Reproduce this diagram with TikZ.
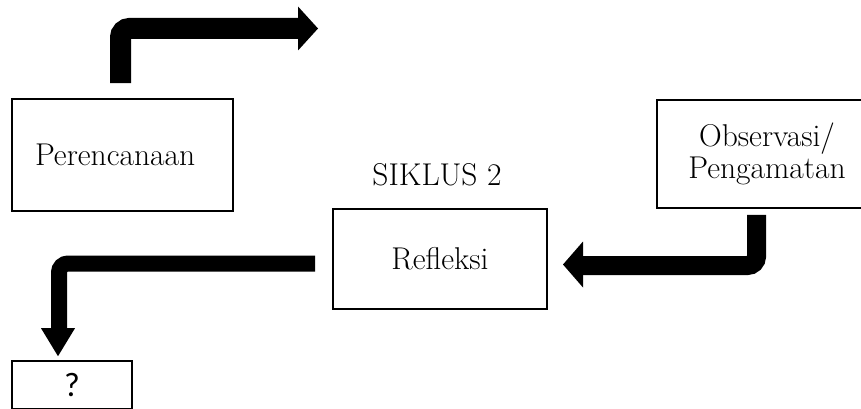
\documentclass[tikz,border=0pt]{standalone}
\usepackage{fontspec}
\newfontfamily\qfont{Carlito}
\usetikzlibrary{calc}
\begin{document}
\begin{tikzpicture}[x=1pt,y=-1pt,
  stagebox/.style={draw=black,line width=1.6pt,rectangle,inner sep=0pt,
    font=\fontsize{31.5}{32}\selectfont},
  shaft/.style={line width=#1,line join=miter,rounded corners=9pt},
  head/.style={fill=black}]
\useasboundingbox (0,0) rectangle (861,409);
\clip (0,0) rectangle (861,409);

% stages of the cycle
\node[stagebox,minimum width=221pt,minimum height=112pt,text width=175pt,
      inner xsep=23pt,align=left] (P) at (122.5,155) {\raisebox{-3pt}{Perencanaan}};
\node[stagebox,minimum width=220pt,minimum height=108pt,align=center] (O) at (767,154)
  {Observasi/\\Pengamatan};
\node[stagebox,minimum width=214pt,minimum height=100pt] (R) at (440,259) {Refleksi};
\node[stagebox,minimum width=120pt,minimum height=48pt,font=\qfont\fontsize{34}{36}\selectfont]
  (Q) at (72,385) {?};
\node[font=\fontsize{31.5}{34}\selectfont] (S) at (437,175) {SIKLUS 2};
\draw[line width=1.6pt] (12,361) rectangle (132,409);

% arrow leaving the planning stage
\coordinate (a1) at ($(P.north)+(-2,-15)$);
\coordinate (a1e) at (298,28.5);
\draw[shaft=21pt] (a1) |- (a1e);
\fill[head] ($(a1e)+(0,-22)$) -- ($(a1e)+(20,0)$) -- ($(a1e)+(0,22)$) -- cycle;

% arrow from observation to reflection
\coordinate (a2) at ($(O.south)+(-10.5,6)$);
\coordinate (a2e) at (583,265.5);
\draw[shaft=19pt] (a2) |- (a2e);
\fill[head] ($(a2e)+(0,-24)$) -- ($(a2e)+(-20,-1)$) -- ($(a2e)+(0,22)$) -- cycle;

% arrow from reflection to the next cycle
\coordinate (a3) at ($(R.west)+(-17,4.5)$);
\coordinate (a3e) at ($(Q.north)+(-13,-32)$);
\draw[shaft=16pt] (a3) -| (a3e);
\fill[head] ($(a3e)+(-18,0)$) -- ($(Q.north)+(-14,-4)$) -- ($(a3e)+(16,0)$) -- cycle;
\end{tikzpicture}
\end{document}
